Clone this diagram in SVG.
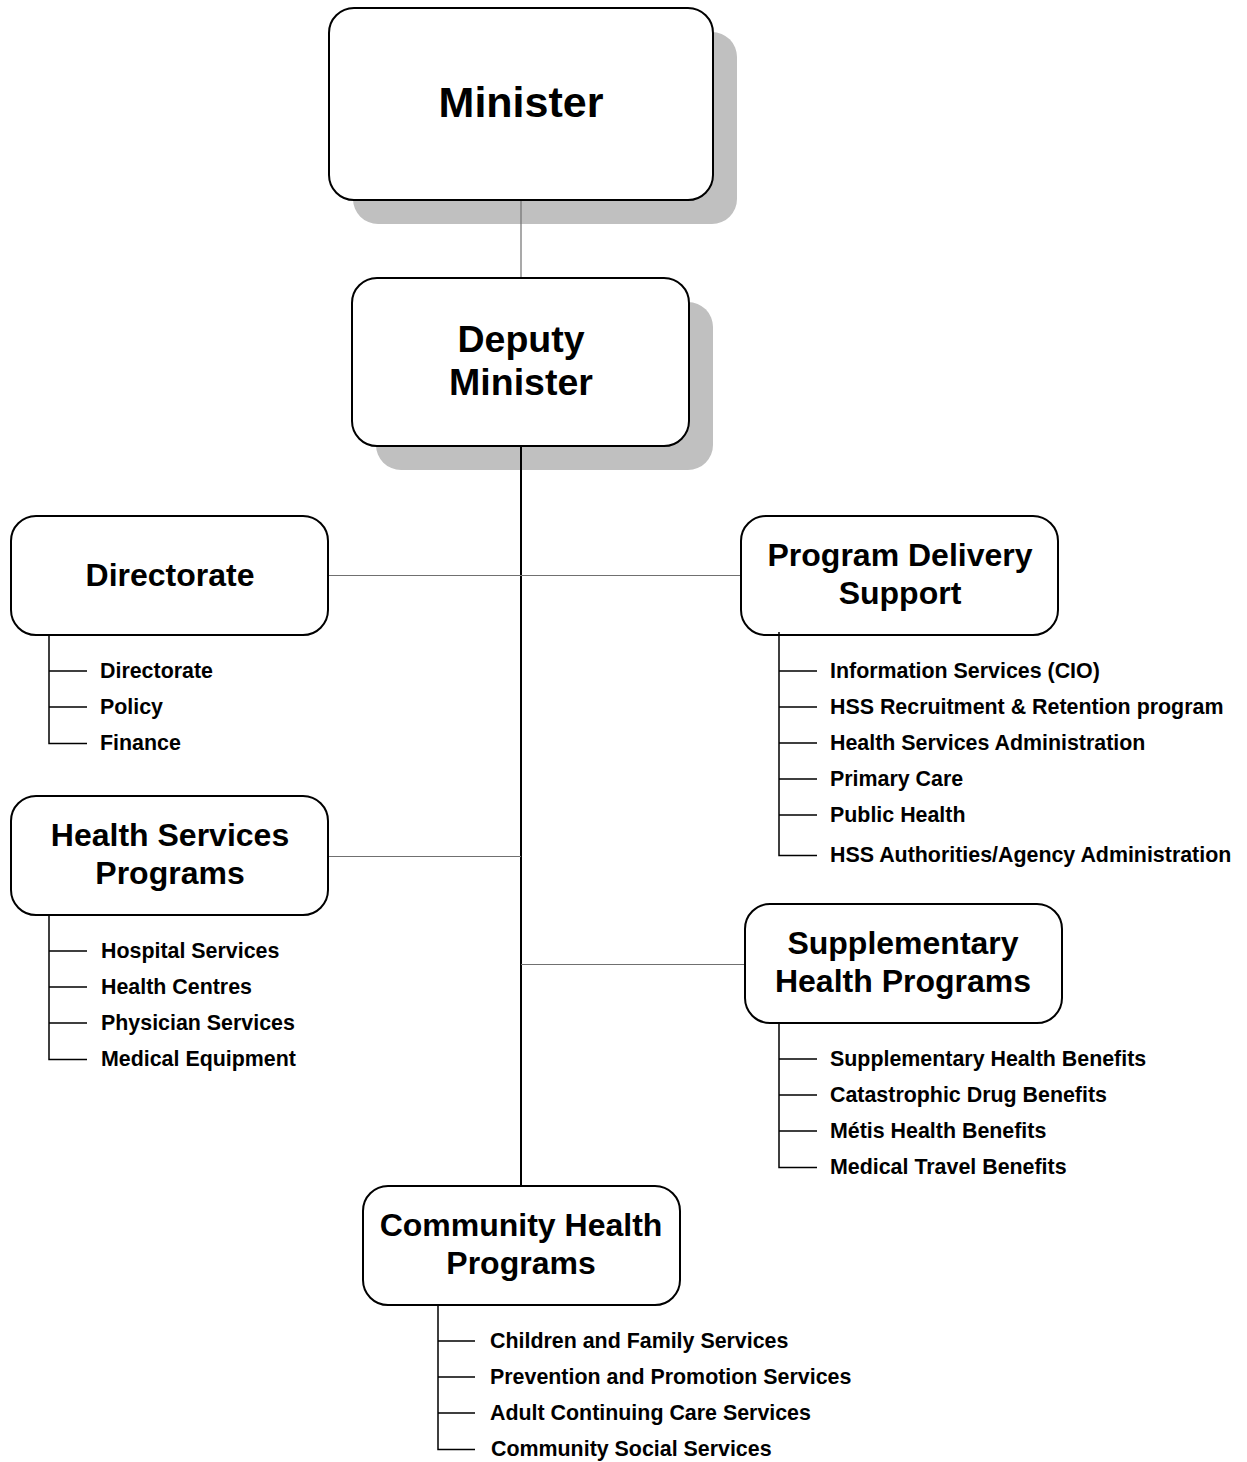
<svg xmlns="http://www.w3.org/2000/svg" width="1247" height="1462" viewBox="0 0 1247 1462">
<style>
.box{fill:#fff;stroke:#000;stroke-width:2}
.shadow{fill:#c0c0c0}
.t{font-family:"Liberation Sans",Arial,sans-serif;font-weight:bold;fill:#000}
.h{font-size:32px;text-anchor:middle}
.s{font-size:21.4px}
.gray{stroke:#707070;stroke-width:1.2;fill:none}
.blk{stroke:#000;stroke-width:2;fill:none}
.br{stroke:#000;stroke-width:1.5;fill:none}
</style>
<rect width="1247" height="1462" fill="#fff"/>
<g id="minister">
<rect class="shadow" x="353" y="32" width="384" height="192" rx="25"/>
<rect class="box" x="329" y="8" width="384" height="192" rx="25"/>
<text class="t" x="521" y="117" font-size="43" text-anchor="middle">Minister</text>
</g>
<g id="deputy-minister">
<rect class="shadow" x="376" y="302" width="337" height="168" rx="25"/>
<rect class="box" x="352" y="278" width="337" height="168" rx="25"/>
<text class="t" x="521" y="352" font-size="37.5" text-anchor="middle">Deputy</text>
<text class="t" x="521" y="395" font-size="37.5" text-anchor="middle">Minister</text>
</g>
<g id="connectors">
<line class="gray" x1="521" y1="201" x2="521" y2="277"/>
<line class="blk" x1="521" y1="447" x2="521" y2="1186"/>
<line class="gray" x1="328" y1="575.5" x2="741" y2="575.5"/>
<line class="gray" x1="328" y1="856.5" x2="521" y2="856.5"/>
<line class="gray" x1="521" y1="964.5" x2="745" y2="964.5"/>
</g>
<g id="directorate">
<rect class="box" x="11" y="516" width="317" height="119" rx="25"/>
<text class="t h" x="170" y="586">Directorate</text>
<path class="br" d="M49 635V743.5H87M49 671H87M49 707H87"/>
<text class="t s" x="100" y="678">Directorate</text>
<text class="t s" x="100" y="714">Policy</text>
<text class="t s" x="100" y="750">Finance</text>
</g>
<g id="program-delivery-support">
<rect class="box" x="741" y="516" width="317" height="119" rx="25"/>
<text class="t h" x="900" y="566">Program Delivery</text>
<text class="t h" x="900" y="604">Support</text>
<path class="br" d="M779 632V855.5H817M779 671H817M779 707H817M779 743H817M779 779H817M779 815H817"/>
<text class="t s" x="830" y="678">Information Services (CIO)</text>
<text class="t s" x="830" y="714">HSS Recruitment &amp; Retention program</text>
<text class="t s" x="830" y="750">Health Services Administration</text>
<text class="t s" x="830" y="786">Primary Care</text>
<text class="t s" x="830" y="822">Public Health</text>
<text class="t s" x="830" y="862">HSS Authorities/Agency Administration</text>
</g>
<g id="health-services-programs">
<rect class="box" x="11" y="796" width="317" height="119" rx="25"/>
<text class="t h" x="170" y="846">Health Services</text>
<text class="t h" x="170" y="884">Programs</text>
<path class="br" d="M49 915V1059.5H87M49 951H87M49 987H87M49 1023H87"/>
<text class="t s" x="101" y="958">Hospital Services</text>
<text class="t s" x="101" y="994">Health Centres</text>
<text class="t s" x="101" y="1030">Physician Services</text>
<text class="t s" x="101" y="1066">Medical Equipment</text>
</g>
<g id="supplementary-health-programs">
<rect class="box" x="745" y="904" width="317" height="119" rx="25"/>
<text class="t h" x="903" y="954">Supplementary</text>
<text class="t h" x="903" y="992">Health Programs</text>
<path class="br" d="M779 1023V1167.5H817M779 1059H817M779 1095H817M779 1131H817"/>
<text class="t s" x="830" y="1066">Supplementary Health Benefits</text>
<text class="t s" x="830" y="1102">Catastrophic Drug Benefits</text>
<text class="t s" x="830" y="1138">Métis Health Benefits</text>
<text class="t s" x="830" y="1174">Medical Travel Benefits</text>
</g>
<g id="community-health-programs">
<rect class="box" x="363" y="1186" width="317" height="119" rx="25"/>
<text class="t h" x="521" y="1236">Community Health</text>
<text class="t h" x="521" y="1274">Programs</text>
<path class="br" d="M438 1305V1449.5H475M438 1341H475M438 1377H475M438 1413H475"/>
<text class="t s" x="490" y="1348">Children and Family Services</text>
<text class="t s" x="490" y="1384">Prevention and Promotion Services</text>
<text class="t s" x="490" y="1420">Adult Continuing Care Services</text>
<text class="t s" x="491" y="1456">Community Social Services</text>
</g>
</svg>
